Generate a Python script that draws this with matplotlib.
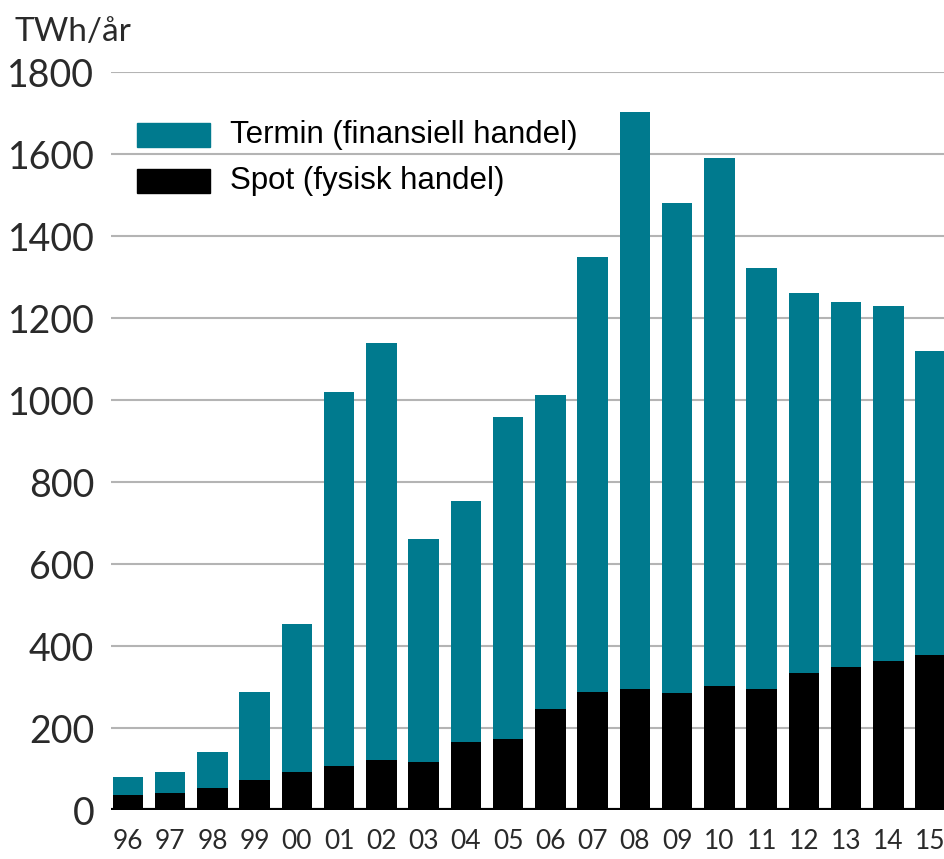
"""Nordic power exchange turnover: spot vs. financial (termin) trading, TWh/year."""
import matplotlib
matplotlib.use("Agg")
import matplotlib.pyplot as plt
import numpy as np

years = ["96", "97", "98", "99", "00", "01", "02", "03", "04", "05",
         "06", "07", "08", "09", "10", "11", "12", "13", "14", "15"]
total = [82, 95, 143, 290, 454, 1020, 1140, 662, 755, 960,
         1014, 1350, 1704, 1481, 1591, 1322, 1262, 1240, 1230, 1119]
spot = [38, 43, 55, 74, 95, 109, 122, 118, 167, 174,
        248, 290, 296, 286, 304, 295, 335, 350, 365, 378]
termin = [t - s for t, s in zip(total, spot)]

TEAL = "#007a8e"
TICK_FONT = ["Lato", "DejaVu Sans"]


def main() -> None:
    fig = plt.figure(figsize=(9.45, 8.59), dpi=100)
    ax = fig.add_axes([0.1175, 0.0565, 0.8825, 0.8595])

    x = np.arange(len(years))
    ax.bar(x, spot, width=0.72, color="black", zorder=3)
    ax.bar(x, termin, bottom=spot, width=0.72, color=TEAL, zorder=3)

    ax.set_xlim(-0.40, 19.34)
    ax.set_ylim(0, 1800)
    ax.set_yticks(range(0, 1801, 200))
    ax.set_xticks(x)
    ax.set_xticklabels(years)
    ax.grid(axis="y", color="#b4b4b4", linewidth=1.5, zorder=0)
    ax.axhline(0, color="black", linewidth=3, zorder=4)

    for side in ("top", "right", "left", "bottom"):
        ax.spines[side].set_visible(False)
    ax.tick_params(axis="both", length=0)
    ax.tick_params(axis="y", pad=12)
    ax.tick_params(axis="x", pad=13)
    for lab in ax.get_yticklabels():
        lab.set_fontfamily(TICK_FONT)
        lab.set_fontsize(27)
        lab.set_color("#2a2a2a")
    for lab in ax.get_xticklabels():
        lab.set_fontfamily(TICK_FONT)
        lab.set_fontsize(19)
        lab.set_color("#2a2a2a")

    fig.text(0.015, 0.952, "TWh/år", fontsize=24, fontfamily=TICK_FONT,
             color="#2a2a2a", va="baseline")

    # legend drawn by hand to match the swatch size and spacing
    for y0, color, label in [(0.829, TEAL, "Termin (finansiell handel)"),
                             (0.775, "black", "Spot (fysisk handel)")]:
        fig.patches.append(plt.Rectangle((0.145, y0), 0.077, 0.028, color=color,
                                         transform=fig.transFigure, figure=fig))
        fig.text(0.243, y0 + 0.014, label, fontsize=22.5, fontfamily="Liberation Sans",
                 va="center", color="black")

    fig.savefig("out.png", dpi=100)


if __name__ == "__main__":
    main()
